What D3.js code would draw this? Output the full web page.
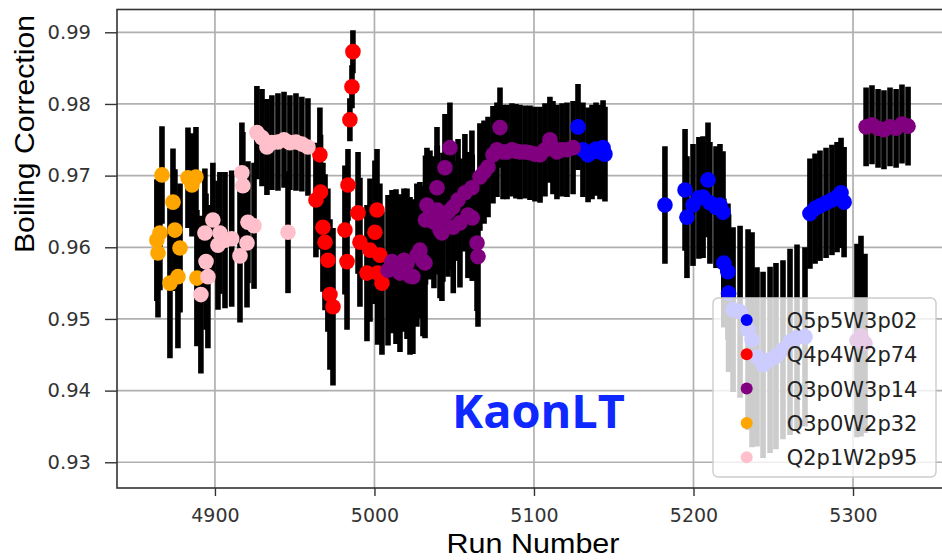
<!DOCTYPE html>
<html>
<head>
<meta charset="utf-8">
<script src="https://cdn.jsdelivr.net/npm/d3@7"></script>
<style>
body { margin: 0; background: #fff; }
</style>
</head>
<body>
<div id="chart"></div>
<script>
// Boiling correction per run, one set of arrays per kinematic setting
var q5Runs = [5127.6, 5130.7, 5133.9, 5136.4, 5138.9, 5141.4, 5143.3, 5144.5,
    5182.1,
    5194.7, 5195.9, 5199.7, 5203.4, 5206.0, 5209.1, 5210.3, 5214.1, 5216.6, 5218.5,
    5219.0, 5221.6, 5222.0, 5224.8, 5229.2, 5234.2, 5236.7, 5239.8, 5243.6, 5248.0,
    5251.7, 5256.1, 5260.5, 5264.9, 5269.9,
    5273.0, 5276.2, 5279.3, 5283.1, 5286.8, 5290.0, 5292.5, 5294.4];
var q5Vals = [0.9768, 0.9736, 0.9729, 0.9733, 0.9737, 0.9733, 0.9739, 0.9730,
    0.9659,
    0.9680, 0.9642, 0.9659, 0.9669, 0.9670, 0.9694, 0.9662, 0.9656, 0.9659, 0.9649,
    0.9578, 0.9566, 0.9536, 0.9513, 0.9510, 0.9485, 0.9471, 0.9447, 0.9436, 0.9443,
    0.9448, 0.9457, 0.9468, 0.9474, 0.9475,
    0.9647, 0.9654, 0.9658, 0.9662, 0.9666, 0.9670, 0.9676, 0.9663];
var q5Errs = [0.0060, 0.0066, 0.0066, 0.0066, 0.0065, 0.0066, 0.0066, 0.0066,
    0.0082,
    0.0085, 0.0085, 0.0085, 0.0085, 0.0085, 0.0080, 0.0085, 0.0085, 0.0085, 0.0085,
    0.0090, 0.0095, 0.0110, 0.0115, 0.0120, 0.0140, 0.0150, 0.0125, 0.0130, 0.0130,
    0.0130, 0.0125, 0.0130, 0.0130, 0.0125,
    0.0077, 0.0077, 0.0077, 0.0077, 0.0077, 0.0077, 0.0077, 0.0077];

var q4Runs = [4963.3, 4965.8, 4966.2, 4967.7, 4969.0, 4970.8, 4972.1, 4974.0, 4981.5, 4982.8,
    4983.4, 4984.6, 4985.9, 4986.5, 4989.7, 4990.9, 4995.3, 4997.2, 5000.3, 5001.6,
    5002.0, 5003.4, 5004.7];
var q4Vals = [0.9666, 0.9729, 0.9677, 0.9628, 0.9607, 0.9582, 0.9534, 0.9517, 0.9624, 0.9580,
    0.9687, 0.9778, 0.9824, 0.9873, 0.9648, 0.9607, 0.9564, 0.9596, 0.9621, 0.9652,
    0.9564, 0.9589, 0.9550];
var q4Errs = [0.0080, 0.0066, 0.0080, 0.0090, 0.0095, 0.0100, 0.0105, 0.0110, 0.0090, 0.0095,
    0.0050, 0.0030, 0.0030, 0.0030, 0.0085, 0.0090, 0.0095, 0.0100, 0.0100, 0.0085,
    0.0100, 0.0100, 0.0100];

var q3w3Runs = [5008.5, 5011.0, 5013.5, 5016.0, 5018.5, 5020.4, 5022.3, 5024.1, 5026.6, 5028.5,
    5030.4, 5031.7, 5032.0, 5032.9, 5034.8, 5037.3, 5039.2, 5039.4, 5041.1, 5042.3,
    5042.9, 5044.2, 5046.1, 5047.3, 5049.2, 5049.4, 5052.4, 5053.6, 5056.7, 5058.6,
    5061.1, 5061.3, 5064.3, 5064.9, 5066.1, 5068.7, 5071.2, 5074.3, 5076.8, 5078.7,
    5080.6, 5083.1, 5086.2, 5088.7, 5091.2, 5094.4, 5097.5, 5100.6, 5103.8, 5106.9,
    5110.0, 5111.9, 5114.4, 5117.6, 5120.7, 5124.5,
    5302.5, 5305.0, 5307.5,
    5308.2, 5311.9, 5315.7, 5319.4, 5323.2, 5327.0, 5330.7, 5334.5];
var q3w3Vals = [0.9568, 0.9580, 0.9573, 0.9564, 0.9582, 0.9577, 0.9560, 0.9559, 0.9589, 0.9596,
    0.9581, 0.9578, 0.9638, 0.9659, 0.9645, 0.9635, 0.9683, 0.9652, 0.9624, 0.9620,
    0.9642, 0.9711, 0.9649, 0.9739, 0.9656, 0.9628, 0.9666, 0.9634, 0.9676, 0.9645,
    0.9683, 0.9641, 0.9606, 0.9587, 0.9698, 0.9705, 0.9712, 0.9729, 0.9736, 0.9767,
    0.9733, 0.9733, 0.9736, 0.9734, 0.9733, 0.9733, 0.9732, 0.9730, 0.9729, 0.9736,
    0.9750, 0.9739, 0.9733, 0.9736, 0.9736, 0.9739,
    0.9470, 0.9476, 0.9466,
    0.9768, 0.9771, 0.9766, 0.9764, 0.9768, 0.9766, 0.9772, 0.9769];
var q3w3Errs = [0.0105, 0.0100, 0.0108, 0.0110, 0.0100, 0.0105, 0.0110, 0.0108, 0.0100, 0.0095,
    0.0105, 0.0105, 0.0090, 0.0080, 0.0090, 0.0092, 0.0085, 0.0090, 0.0095, 0.0095,
    0.0090, 0.0075, 0.0090, 0.0063, 0.0088, 0.0092, 0.0085, 0.0090, 0.0082, 0.0088,
    0.0080, 0.0088, 0.0095, 0.0098, 0.0075, 0.0072, 0.0070, 0.0068, 0.0066, 0.0056,
    0.0066, 0.0066, 0.0065, 0.0066, 0.0066, 0.0065, 0.0066, 0.0066, 0.0067, 0.0065,
    0.0060, 0.0065, 0.0066, 0.0065, 0.0066, 0.0065,
    0.0135, 0.0140, 0.0125,
    0.0055, 0.0055, 0.0055, 0.0055, 0.0055, 0.0055, 0.0055, 0.0055];

var q3w2Runs = [4863.6, 4864.3, 4865.5, 4866.8, 4871.8, 4873.7, 4874.9, 4876.8, 4878.1, 4883.1,
    4885.6, 4888.1, 4888.7];
var q3w2Vals = [0.9610, 0.9592, 0.9620, 0.9701, 0.9550, 0.9663, 0.9624, 0.9559, 0.9599, 0.9697,
    0.9687, 0.9698, 0.9557];
var q3w2Errs = [0.0085, 0.0090, 0.0080, 0.0068, 0.0105, 0.0075, 0.0085, 0.0100, 0.0090, 0.0070,
    0.0072, 0.0070, 0.0095];

var q2Runs = [4891.2, 4893.7, 4894.4, 4895.6, 4898.7, 4901.9, 4903.1, 4906.3, 4910.5, 4915.7,
    4916.9, 4917.5, 4920.1, 4920.7, 4924.5, 4926.3, 4929.5, 4932.6, 4935.7, 4939.5,
    4943.3, 4945.8, 4947.0, 4950.8, 4954.5, 4958.3];
var q2Vals = [0.9534, 0.9620, 0.9580, 0.9559, 0.9638, 0.9603, 0.9620, 0.9610, 0.9612, 0.9588,
    0.9704, 0.9686, 0.9606, 0.9635, 0.9630, 0.9760, 0.9753, 0.9740, 0.9746, 0.9747,
    0.9750, 0.9621, 0.9746, 0.9747, 0.9744, 0.9740];
var q2Errs = [0.0110, 0.0090, 0.0095, 0.0100, 0.0080, 0.0090, 0.0085, 0.0095, 0.0095, 0.0093,
    0.0070, 0.0075, 0.0090, 0.0085, 0.0088, 0.0065, 0.0068, 0.0067, 0.0066, 0.0068,
    0.0067, 0.0085, 0.0066, 0.0068, 0.0066, 0.0068];

var seriesNames = ["Q5p5W3p02", "Q4p4W2p74", "Q3p0W3p14", "Q3p0W2p32", "Q2p1W2p95"];
var seriesColors = ["blue", "red", "purple", "orange", "pink"];

var xTicks = [4900, 5000, 5100, 5200, 5300];
var yTicks = [0.93, 0.94, 0.95, 0.96, 0.97, 0.98, 0.99];

// zip the arrays into point objects for d3
function makePoints(runs, vals, errs, idx) {
    var pts = [];
    for (var i = 0; i < runs.length; i++) {
        pts.push({run: runs[i], val: vals[i], err: errs[i], s: idx});
    }
    return pts;
}

var series = [
    makePoints(q5Runs, q5Vals, q5Errs, 0),
    makePoints(q4Runs, q4Vals, q4Errs, 1),
    makePoints(q3w3Runs, q3w3Vals, q3w3Errs, 2),
    makePoints(q3w2Runs, q3w2Vals, q3w2Errs, 3),
    makePoints(q2Runs, q2Vals, q2Errs, 4)
];

var width = 942, height = 560;
// plot box (right edge sits outside the window, as in the original crop)
var pLeft = 117, pRight = 950, pTop = 9.5, pBottom = 488;

var x = d3.scaleLinear().domain([4838.6, 5360.8]).range([pLeft, pRight]);
var y = d3.scaleLinear().domain([0.92641, 0.99318]).range([pBottom, pTop]);

var svg = d3.select("#chart")
    .append("svg")
    .attr("width", width)
    .attr("height", height)
    .style("font-family", "'DejaVu Sans', sans-serif");

svg.append("clipPath").attr("id", "plotclip")
    .append("rect")
    .attr("x", pLeft).attr("y", pTop)
    .attr("width", pRight - pLeft).attr("height", pBottom - pTop);

// grid
var grid = svg.append("g");
grid.selectAll(".vgrid")
    .data(xTicks)
    .enter().append("line")
    .attr("x1", function(d) { return x(d); })
    .attr("x2", function(d) { return x(d); })
    .attr("y1", pTop).attr("y2", pBottom)
    .attr("stroke", "#b0b0b0").attr("stroke-width", 1.7);
grid.selectAll(".hgrid")
    .data(yTicks)
    .enter().append("line")
    .attr("x1", pLeft).attr("x2", pRight)
    .attr("y1", function(d) { return y(d); })
    .attr("y2", function(d) { return y(d); })
    .attr("stroke", "#b0b0b0").attr("stroke-width", 1.7);

var plot = svg.append("g").attr("clip-path", "url(#plotclip)");

// error bars first, then markers on top
series.forEach(function(pts) {
    plot.selectAll(null)
        .data(pts)
        .enter().append("line")
        .attr("x1", function(d) { return x(d.run); })
        .attr("x2", function(d) { return x(d.run); })
        .attr("y1", function(d) { return y(d.val - d.err); })
        .attr("y2", function(d) { return y(d.val + d.err); })
        .attr("stroke", "black")
        .attr("stroke-width", 5.6);
});

series.forEach(function(pts) {
    plot.selectAll(null)
        .data(pts)
        .enter().append("circle")
        .attr("cx", function(d) { return x(d.run); })
        .attr("cy", function(d) { return y(d.val); })
        .attr("r", 7.8)
        .attr("fill", function(d) { return seriesColors[d.s]; });
});

// frame
svg.append("rect")
    .attr("x", pLeft).attr("y", pTop)
    .attr("width", pRight - pLeft).attr("height", pBottom - pTop)
    .attr("fill", "none")
    .attr("stroke", "#333")
    .attr("stroke-width", 1.6);

// axes
var xAxis = svg.append("g")
    .attr("transform", "translate(0," + pBottom + ")")
    .call(d3.axisBottom(x).tickValues(xTicks).tickSize(8).tickFormat(d3.format("d")));
xAxis.select(".domain").remove();
xAxis.selectAll("line").attr("stroke", "#333").attr("stroke-width", 1.4);
xAxis.selectAll("text")
    .attr("y", 21)
    .attr("fill", "#333")
    .style("font-size", "19px")
    .style("font-family", "'DejaVu Sans', sans-serif");

var yAxis = svg.append("g")
    .attr("transform", "translate(" + pLeft + ",0)")
    .call(d3.axisLeft(y).tickValues(yTicks).tickSize(12).tickPadding(14).tickFormat(d3.format(".2f")));
yAxis.select(".domain").remove();
yAxis.selectAll("line").attr("stroke", "#333").attr("stroke-width", 1.4);
yAxis.selectAll("text")
    .attr("fill", "#333")
    .style("font-size", "19.5px")
    .style("font-family", "'DejaVu Sans', sans-serif");

// axis titles
svg.append("text")
    .attr("x", 533).attr("y", 553)
    .attr("text-anchor", "middle")
    .attr("textLength", 173)
    .attr("lengthAdjust", "spacingAndGlyphs")
    .style("font-family", "'Liberation Sans', Arial, sans-serif")
    .style("font-size", "27px")
    .text("Run Number");

svg.append("text")
    .attr("transform", "translate(34,134) rotate(-90)")
    .attr("text-anchor", "middle")
    .attr("textLength", 238)
    .attr("lengthAdjust", "spacingAndGlyphs")
    .style("font-family", "'Liberation Sans', Arial, sans-serif")
    .style("font-size", "27px")
    .text("Boiling Correction");

// KaonLT tag
svg.append("text")
    .attr("x", 452).attr("y", 428)
    .attr("textLength", 173)
    .attr("lengthAdjust", "spacingAndGlyphs")
    .attr("fill", "#0f28ff")
    .style("font-family", "'Open Sans', sans-serif")
    .style("font-weight", 700)
    .style("font-size", "46px")
    .text("KaonLT");

// legend
var legend = svg.append("g");
legend.append("rect")
    .attr("x", 713).attr("y", 298)
    .attr("width", 223).attr("height", 179)
    .attr("rx", 5)
    .attr("fill", "white").attr("fill-opacity", 0.8)
    .attr("stroke", "#cccccc").attr("stroke-width", 1.4);

var rows = legend.selectAll(".row")
    .data(seriesNames)
    .enter().append("g")
    .attr("transform", function(d, i) { return "translate(0," + (320 + i * 34.3) + ")"; });
rows.append("circle")
    .attr("cx", 746.7).attr("cy", 0).attr("r", 6)
    .attr("fill", function(d, i) { return seriesColors[i]; });
rows.append("text")
    .attr("x", 786.7).attr("y", 8)
    .attr("fill", "#222")
    .style("font-size", "21px")
    .text(function(d) { return d; });
</script>
</body>
</html>
